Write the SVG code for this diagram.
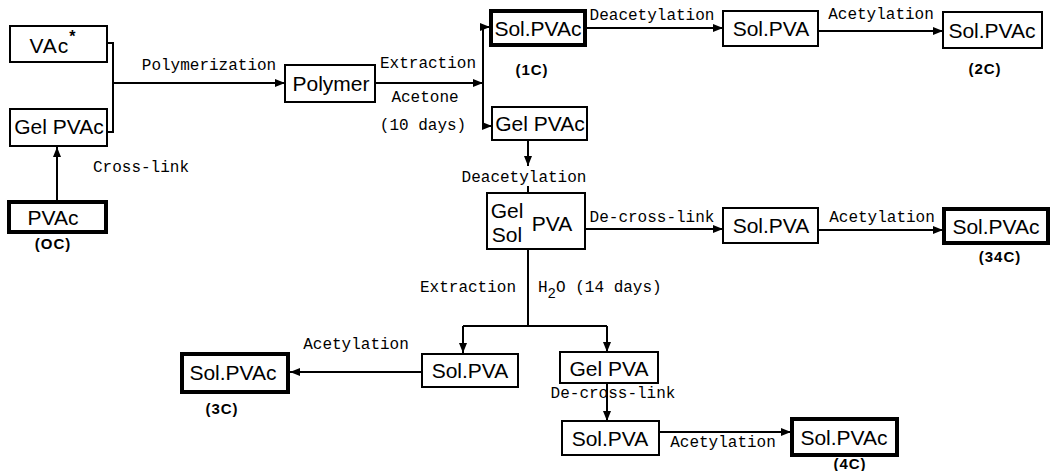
<svg xmlns="http://www.w3.org/2000/svg" width="1053" height="471" viewBox="0 0 1053 471">
<style>
.box{fill:#fff;stroke:#000;stroke-width:2}
.thick{fill:#fff;stroke:#000;stroke-width:4}
.nt{font-family:"Liberation Sans",Arial,sans-serif;font-size:21px;fill:#000;text-anchor:middle}
.lbl{font-family:"Liberation Mono","Courier New",monospace;font-size:16px;fill:#000;text-anchor:middle}
.code{font-family:"Liberation Sans",Arial,sans-serif;font-size:15px;font-weight:bold;fill:#000;text-anchor:middle;letter-spacing:1px}
.ln{fill:none;stroke:#000;stroke-width:2}
</style>
<defs>
<marker id="ah" markerUnits="userSpaceOnUse" markerWidth="10" markerHeight="8" refX="10" refY="4" orient="auto">
<path d="M0,0 L10,4 L0,8 z" fill="#000"/>
</marker>
</defs>
<rect width="1053" height="471" fill="#fff"/>
<g id="connectors">
<path class="ln" d="M107,43 H113 V132 H107"/>
<path class="ln" d="M113,83 H285" marker-end="url(#ah)"/>
<path class="ln" d="M57,201 V147" marker-end="url(#ah)"/>
<path class="ln" d="M375,83 H483" marker-end="url(#ah)"/>
<path class="ln" d="M483,27 V126"/>
<path class="ln" d="M483,27 H490" marker-end="url(#ah)"/>
<path class="ln" d="M483,126 H492" marker-end="url(#ah)"/>
<path class="ln" d="M528,140 V166" marker-end="url(#ah)"/>
<path class="ln" d="M528,186 V193"/>
<path class="ln" d="M585,28 H723" marker-end="url(#ah)"/>
<path class="ln" d="M818,31 H943" marker-end="url(#ah)"/>
<path class="ln" d="M585,229 H723" marker-end="url(#ah)"/>
<path class="ln" d="M818,230 H943" marker-end="url(#ah)"/>
<path class="ln" d="M528,249 V326 M463,326 H607"/>
<path class="ln" d="M463,326 V353" marker-end="url(#ah)"/>
<path class="ln" d="M607,326 V352" marker-end="url(#ah)"/>
<path class="ln" d="M422,372 H290" marker-end="url(#ah)"/>
<path class="ln" d="M607,383 V421" marker-end="url(#ah)"/>
<path class="ln" d="M659,432 H791" marker-end="url(#ah)"/>
<text class="lbl" x="209" y="70">Polymerization</text>
<text class="lbl" x="141" y="172">Cross-link</text>
<text class="lbl" x="428" y="68">Extraction</text>
<text class="lbl" x="425" y="102">Acetone</text>
<text class="lbl" x="423" y="130">(10 days)</text>
<text class="lbl" x="652" y="20">Deacetylation</text>
<text class="lbl" x="881" y="19">Acetylation</text>
<text class="lbl" x="524" y="182">Deacetylation</text>
<text class="lbl" x="652" y="222">De-cross-link</text>
<text class="lbl" x="882" y="222">Acetylation</text>
<text class="lbl" x="468" y="292">Extraction</text>
<text class="lbl" x="538" y="292" style="text-anchor:start">H<tspan dy="6" font-size="14">2</tspan><tspan dy="-6">O (14 days)</tspan></text>
<text class="lbl" x="356" y="349">Acetylation</text>
<text class="lbl" x="613" y="398">De-cross-link</text>
<text class="lbl" x="723" y="447">Acetylation</text>
</g>
<g id="n-vac"><rect class="box" x="10" y="26" width="97" height="36"/><text class="nt" x="53" y="53" font-size="23" letter-spacing="1">VAc<tspan dx="0" dy="-11" font-size="16" font-weight="bold">*</tspan></text></g>
<g id="n-gelpvac1"><rect class="box" x="10" y="109" width="97" height="37"/><text class="nt" x="59" y="134">Gel PVAc</text></g>
<g id="n-pvac0"><rect class="thick" x="9" y="202" width="97" height="30"/><text class="nt" x="53" y="225">PVAc</text><text class="code" x="53" y="249">(OC)</text></g>
<g id="n-polymer"><rect class="box" x="285" y="65" width="90" height="37"/><text class="nt" x="331" y="91">Polymer</text></g>
<g id="n-solpvac1"><rect class="thick" x="491" y="11" width="94" height="34"/><text class="nt" x="538" y="36">Sol.PVAc</text><text class="code" x="532" y="75">(1C)</text></g>
<g id="n-gelpvac2"><rect class="box" x="492" y="107" width="95" height="33"/><text class="nt" x="540" y="131">Gel PVAc</text></g>
<g id="n-solpva1"><rect class="box" x="723" y="11" width="95" height="35"/><text class="nt" x="771" y="36">Sol.PVA</text></g>
<g id="n-solpvac2"><rect class="box" x="943" y="12" width="99" height="36"/><text class="nt" x="992" y="38">Sol.PVAc</text><text class="code" x="985" y="74">(2C)</text></g>
<g id="n-gelsolpva"><rect class="box" x="487" y="193" width="98" height="56"/><text class="nt" x="507" y="218">Gel</text><text class="nt" x="507" y="242">Sol</text><text class="nt" x="552" y="231">PVA</text></g>
<g id="n-solpva2"><rect class="box" x="723" y="208" width="95" height="35"/><text class="nt" x="771" y="233">Sol.PVA</text></g>
<g id="n-solpvac34"><rect class="thick" x="944" y="209" width="104" height="34"/><text class="nt" x="996" y="234">Sol.PVAc</text><text class="code" x="1000" y="262">(34C)</text></g>
<g id="n-solpvac3"><rect class="thick" x="182" y="354" width="106" height="38"/><text class="nt" x="233" y="380">Sol.PVAc</text><text class="code" x="222" y="414">(3C)</text></g>
<g id="n-solpva3"><rect class="box" x="422" y="354" width="96" height="33"/><text class="nt" x="470" y="378">Sol.PVA</text></g>
<g id="n-gelpva"><rect class="box" x="560" y="352" width="98" height="31"/><text class="nt" x="609" y="376">Gel PVA</text></g>
<g id="n-solpva4"><rect class="box" x="562" y="421" width="97" height="34"/><text class="nt" x="610" y="446">Sol.PVA</text></g>
<g id="n-solpvac4"><rect class="thick" x="792" y="419" width="105" height="36"/><text class="nt" x="844" y="445">Sol.PVAc</text><text class="code" x="850" y="469" font-size="13">(4C)</text></g>
</svg>
